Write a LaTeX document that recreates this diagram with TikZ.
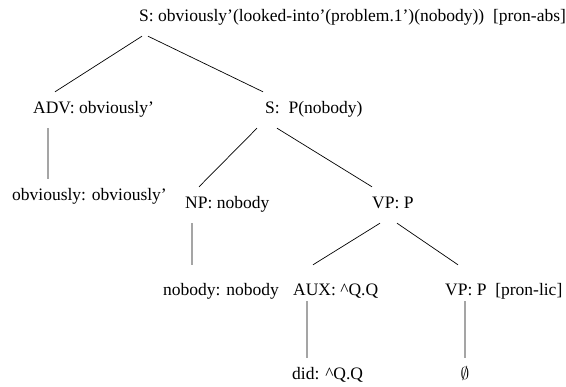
\documentclass[tikz,border=0pt]{standalone}
\usepackage{fontspec}
\setmainfont{Liberation Serif}
\tikzset{
  lbl/.style={anchor=base west, inner sep=0pt, text height=22pt, text depth=14pt,
              font=\fontsize{17.5}{20}\selectfont},
  lowrow/.style={lbl, text height=31pt, text depth=5pt},
  branch/.style={line width=0.7pt}
}
\begin{document}
\begin{tikzpicture}[x=1pt,y=-1pt]
                \useasboundingbox (0,0) rectangle (566,387);
                \node[lbl] (root) at (139,22) {S: obviously'(looked-into'(problem.1')(nobody))\ \ [pron-abs]};
                \node[lbl] (adv)  at (33,114)  {ADV: obviously'};
                \node[lbl] (s)    at (265,114) {S:\ \ P(nobody)};
                \node[lbl] (obv)  at (12,201)  {obviously: obviously'};
                \node[lbl] (np)   at (185,209) {NP: nobody};
                \node[lbl] (vp)   at (372,209) {VP: P};
                \node[lowrow] (nob) at (163,296) {nobody: nobody};
                \node[lowrow] (aux) at (293,296) {AUX: \textasciicircum Q.Q};
                \node[lowrow] (vpr) at (445,296) {VP: P\ \ [pron-lic]};
                \node[lbl] (did)  at (292,380) {did: \textasciicircum Q.Q};
                \node[lbl, anchor=base] (empty) at (465,380) {$\emptyset$};

                % the branches
                \draw [branch] ([xshift=3pt]root.south west) -- ([xshift=22pt]adv.north west)
                               ([xshift=9pt]root.south west) -- ([xshift=-2pt]s.north west)
                               ([xshift=15pt]adv.south west) -- ([xshift=36pt]obv.north west)
                               ([xshift=-8pt]s.south west)   -- ([xshift=14pt]np.north west)
                               ([xshift=12pt]s.south west)   -- (vp.north west)
                               ([xshift=7pt]np.south west)   -- ([xshift=29pt]nob.north west)
                               ([xshift=8pt]vp.south west)   -- ([xshift=20pt]aux.north west)
                               ([xshift=25pt]vp.south west)  -- ([xshift=13pt]vpr.north west)
                               ([xshift=14pt]aux.south west) -- ([xshift=15pt]did.north west)
                               ([xshift=20pt]vpr.south west) -- (empty.north);
              \end{tikzpicture}
\end{document}
